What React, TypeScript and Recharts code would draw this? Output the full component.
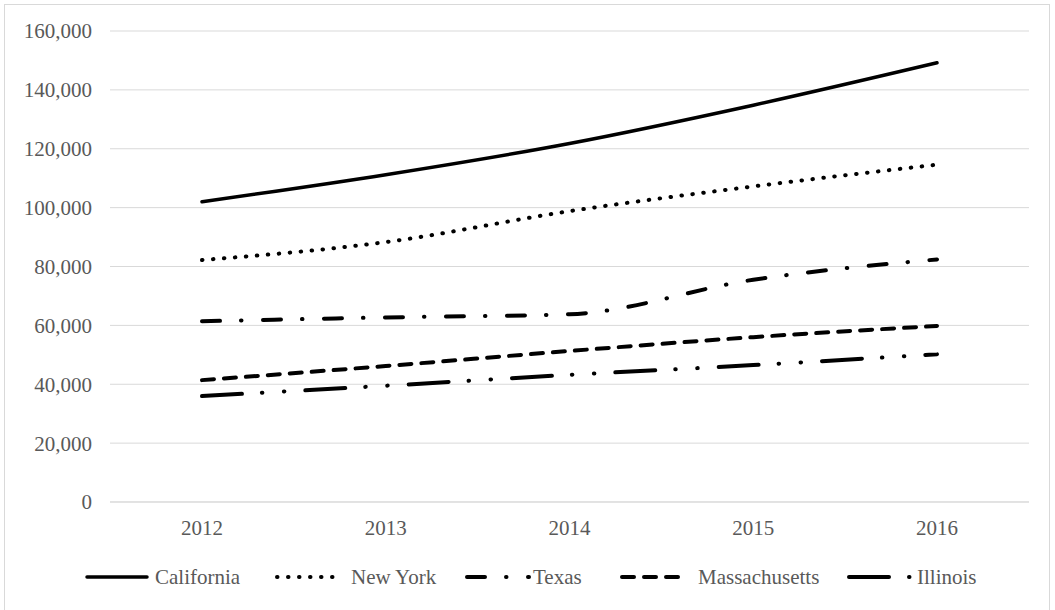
import React from 'react';
import { LineChart, Line, XAxis, YAxis, CartesianGrid, Legend } from 'recharts';

const years = ['2012', '2013', '2014', '2015', '2016'];
const california = [102000, 111200, 121800, 134800, 149200];
const newYork = [82200, 88300, 98800, 107200, 114600];
const texas = [61400, 62700, 63800, 75500, 82400];
const massachusetts = [41400, 46200, 51300, 56000, 59800];
const illinois = [36000, 39500, 43200, 46500, 50200];
const yTicks = [0, 20000, 40000, 60000, 80000, 100000, 120000, 140000, 160000];

const series = [
  { key: 'California', values: california, dash: undefined as string | undefined, width: 3.5, gap: 4 },
  { key: 'New York', values: newYork, dash: '0.5 10.5', width: 4, gap: 10 },
  { key: 'Texas', values: texas, dash: '18 21 0.5 21.5', width: 4, gap: 2 },
  { key: 'Massachusetts', values: massachusetts, dash: '12 10', width: 4, gap: 12 },
  { key: 'Illinois', values: illinois, dash: '40 20 0.5 21.5 0.5 21', width: 4, gap: 4 },
];

const data = years.map((year, i) => {
  const row: Record<string, string | number> = { year };
  series.forEach((s) => {
    row[s.key] = s.values[i];
  });
  return row;
});

const font = '"Liberation Serif", "Times New Roman", serif';
const textColor = '#595959';

const legendStarts = [85, 275, 465, 620, 847];

function ChartLegend() {
  return (
    <div style={{ position: 'relative', height: 40, width: 1055 }}>
      {series.map((s, i) => (
        <div
          key={s.key}
          style={{
            position: 'absolute',
            left: legendStarts[i],
            top: 0,
            height: 40,
            display: 'flex',
            alignItems: 'center',
            whiteSpace: 'nowrap',
          }}
        >
          <svg width={66} height={10} style={{ display: 'block' }}>
            <line
              x1={2}
              y1={5}
              x2={s.key === 'California' ? 62 : 64}
              y2={5}
              stroke="#000"
              strokeWidth={s.width}
              strokeDasharray={s.dash}
              strokeLinecap="round"
            />
          </svg>
          <span style={{ fontFamily: font, fontSize: 21, color: textColor, marginLeft: s.gap }}>
            {s.key}
          </span>
        </div>
      ))}
    </div>
  );
}

export default function App() {
  return (
    <div style={{ position: 'absolute', left: 0, top: 0, width: 1055, height: 610, overflow: 'hidden', background: '#fff' }}>
      <div
        style={{
          position: 'absolute',
          left: 4,
          top: 4,
          width: 1046,
          height: 640,
          border: '1px solid #d9d9d9',
          boxSizing: 'border-box',
        }}
      />
      <LineChart
        width={1055}
        height={610}
        data={data}
        margin={{ top: 31, right: 26, left: 0, bottom: 13 }}
      >
        <CartesianGrid vertical={false} stroke="#d9d9d9" strokeWidth={1} />
        <XAxis
          dataKey="year"
          height={55}
          padding={{ left: 92, right: 92 }}
          axisLine={{ stroke: '#d9d9d9' }}
          tickLine={false}
          tickSize={0}
          tickMargin={18}
          tick={{ fontFamily: font, fontSize: 21, fill: textColor }}
        />
        <YAxis
          width={110}
          domain={[0, 160000]}
          ticks={yTicks}
          interval={0}
          axisLine={false}
          tickLine={false}
          tickSize={0}
          tickMargin={18}
          tickFormatter={(v: number) => v.toLocaleString('en-US')}
          tick={{ fontFamily: font, fontSize: 21, fill: textColor }}
        />
        <Legend verticalAlign="bottom" content={() => <ChartLegend />} />
        {series.map((s) => (
          <Line
            key={s.key}
            type="monotone"
            dataKey={s.key}
            stroke="#000"
            strokeWidth={s.width}
            strokeDasharray={s.dash}
            strokeLinecap="round"
            dot={false}
            activeDot={false}
            isAnimationActive={false}
          />
        ))}
      </LineChart>
    </div>
  );
}
